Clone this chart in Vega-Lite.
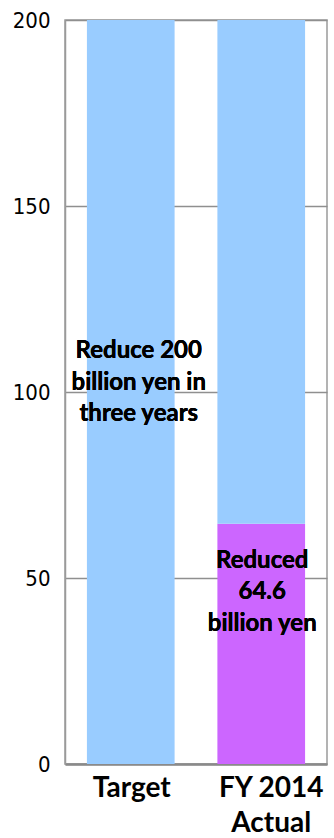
{
  "$schema": "https://vega.github.io/schema/vega-lite/v6.json",
  "width": 262,
  "height": 744,
  "autosize": {"type": "none"},
  "padding": {"left": 65, "top": 20, "right": 7, "bottom": 74},
  "background": "white",
  "config": {
    "view": {"stroke": "#9a9a9a", "strokeWidth": 1.5},
    "axis": {"labelColor": "#000000", "titleColor": "#000000"}
  },
  "data": {
    "values": [
      {"period": "Target", "part": "Reduction goal", "amount": 200, "order": 1},
      {"period": "FY 2014 Actual", "part": "Reduced", "amount": 64.6, "order": 1},
      {"period": "FY 2014 Actual", "part": "Remaining", "amount": 135.4, "order": 2}
    ]
  },
  "layer": [
    {
      "mark": {"type": "bar"},
      "encoding": {
        "x": {
          "field": "period",
          "type": "nominal",
          "sort": ["Target", "FY 2014 Actual"],
          "scale": {"paddingInner": 0.328, "paddingOuter": 0.168},
          "axis": {
            "title": null,
            "labelAngle": 0,
            "domain": true,
            "domainColor": "#8a8a8a",
            "domainWidth": 2.5,
            "ticks": false,
            "labelFont": "Lato",
            "labelFontWeight": "bold",
            "labelFontSize": 28,
            "labelBaseline": "top",
            "labelPadding": 10,
            "labelLineHeight": 35,
            "labelExpr": "datum.value == 'FY 2014 Actual' ? ['FY 2014', 'Actual'] : datum.value",
            "labelOffset": {"condition": {"test": "datum.value == 'FY 2014 Actual'", "value": 10}, "value": 1}
          }
        },
        "y": {
          "field": "amount",
          "type": "quantitative",
          "stack": "zero",
          "scale": {"domain": [0, 200], "nice": false},
          "axis": {
            "title": null,
            "values": [0, 50, 100, 150, 200],
            "ticks": false,
            "domain": true,
            "domainColor": "#9a9a9a",
            "domainWidth": 1.5,
            "grid": true,
            "gridColor": "#8f8f8f",
            "gridWidth": 1.5,
            "labelFont": "DejaVu Sans Condensed, sans-serif",
            "labelFontSize": 22,
            "labelPadding": 15
          }
        },
        "order": {"field": "order", "type": "quantitative"},
        "color": {
          "field": "part",
          "type": "nominal",
          "scale": {
            "domain": ["Reduction goal", "Reduced", "Remaining"],
            "range": ["#99ccff", "#cc66ff", "#99ccff"]
          },
          "legend": null
        }
      }
    },
    {
      "mark": {
        "type": "text",
        "font": "Lato",
        "fontWeight": "bold",
        "fontSize": 24,
        "lineHeight": 31.5,
        "baseline": "middle",
        "align": "center",
        "dx": 8,
        "color": "#000000"
      },
      "encoding": {
        "x": {"datum": "Target", "type": "nominal"},
        "y": {"datum": 111, "type": "quantitative"},
        "text": {"value": ["Reduce 200", "billion yen in", "three years"]}
      }
    },
    {
      "mark": {
        "type": "text",
        "font": "Lato",
        "fontWeight": "bold",
        "fontSize": 24,
        "lineHeight": 31.5,
        "baseline": "middle",
        "align": "center",
        "dx": 1,
        "color": "#000000"
      },
      "encoding": {
        "x": {"datum": "FY 2014 Actual", "type": "nominal"},
        "y": {"datum": 54.6, "type": "quantitative"},
        "text": {"value": ["Reduced", "64.6", "billion yen"]}
      }
    }
  ]
}
